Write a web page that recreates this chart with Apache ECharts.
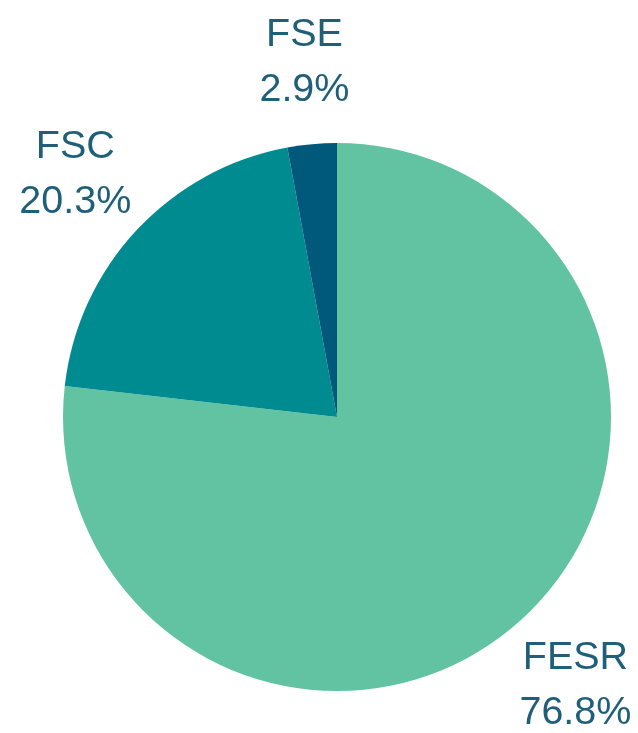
<!DOCTYPE html>
<html>
<head>
<meta charset="utf-8">
<script src="https://cdn.jsdelivr.net/npm/echarts@6/dist/echarts.min.js"></script>
<style>
html, body { margin: 0; padding: 0; background: #fff; }
#main { width: 638px; height: 733px; }
</style>
</head>
<body>
<div id="main"></div>
<script>
var names = ['FESR', 'FSC', 'FSE'];
var shares = [76.8, 20.3, 2.9];
var colors = ['#62c3a2', '#008b91', '#00587a'];

var dom = document.getElementById("main");
var myChart = echarts.init(dom);

var sliceData = names.map(function (n, i) {
    return { name: n, value: shares[i], itemStyle: { color: colors[i] } };
});
// same slices, invisible ring, just used to place the labels
var labelData = names.map(function (n, i) {
    return { name: n, value: shares[i] };
});

var option = {
    animation: false,
    series: [
        {
            type: 'pie',
            center: [337, 417],
            radius: 274,
            startAngle: 90,
            data: sliceData,
            label: { show: false },
            labelLine: { show: false },
            emphasis: { disabled: true }
        },
        {
            type: 'pie',
            center: [337, 417],
            radius: [274, 436],
            startAngle: 90,
            silent: true,
            data: labelData,
            itemStyle: { color: 'rgba(0,0,0,0)' },
            labelLine: { show: false },
            label: {
                show: true,
                position: 'inside',
                offset: [0, 2],
                color: '#1f5f7a',
                fontFamily: 'Liberation Sans',
                fontSize: 39.5,
                lineHeight: 55,
                align: 'center',
                formatter: function (p) {
                    return p.name + '\n' + p.value.toFixed(1) + '%';
                }
            }
        }
    ]
};
myChart.setOption(option, true);
</script>
</body>
</html>
